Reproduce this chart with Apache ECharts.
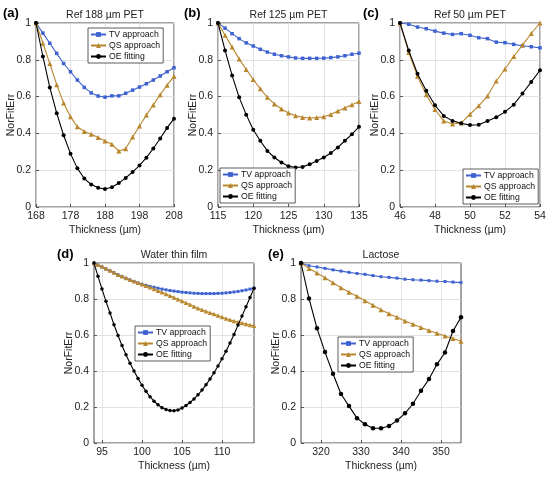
<!DOCTYPE html>
<html><head><meta charset="utf-8">
<script src="https://cdn.jsdelivr.net/npm/echarts@6/dist/echarts.min.js"></script>
<style>html,body{margin:0;padding:0;background:#fff}#c{width:550px;height:479px}</style>
</head><body><div id="c"></div>
<script>
// ---- Data ----
var seriesNames = ['TV approach', 'QS approach', 'OE fitting'];
var panelTitles = ['Ref 188 µm PET', 'Ref 125 µm PET', 'Ref 50 µm PET', 'Water thin film', 'Lactose'];
var panelLabels = ['(a)', '(b)', '(c)', '(d)', '(e)'];
var yTicks = [0, 0.2, 0.4, 0.6, 0.8, 1];

var xA = [168,170,172,174,176,178,180,182,184,186,188,190,192,194,196,198,200,202,204,206,208];
var tvA = [1.0,0.945,0.89,0.835,0.78,0.735,0.69,0.65,0.62,0.603,0.597,0.604,0.604,0.618,0.635,0.652,0.67,0.69,0.712,0.735,0.757];
var qsA = [1.0,0.89,0.78,0.665,0.565,0.49,0.436,0.41,0.395,0.378,0.359,0.341,0.304,0.317,0.38,0.44,0.5,0.555,0.61,0.662,0.71];
var oeA = [1.0,0.818,0.65,0.51,0.39,0.29,0.21,0.155,0.122,0.104,0.098,0.107,0.13,0.158,0.19,0.226,0.268,0.318,0.372,0.43,0.48];
var ticksA = [168,178,188,198,208];

var xB = [115,116,117,118,119,120,121,122,123,124,125,126,127,128,129,130,131,132,133,134,135];
var tvB = [1.0,0.972,0.942,0.915,0.892,0.875,0.857,0.842,0.83,0.822,0.816,0.81,0.808,0.808,0.808,0.809,0.812,0.816,0.822,0.83,0.836];
var qsB = [1.0,0.933,0.869,0.805,0.747,0.693,0.642,0.596,0.56,0.533,0.511,0.496,0.487,0.484,0.486,0.49,0.503,0.522,0.538,0.556,0.573];
var oeB = [1.0,0.851,0.715,0.596,0.502,0.42,0.36,0.305,0.269,0.242,0.222,0.215,0.218,0.232,0.25,0.269,0.293,0.324,0.36,0.396,0.436];
var ticksB = [115,120,125,130,135];

var xC = [46,46.5,47,47.5,48,48.5,49,49.5,50,50.5,51,51.5,52,52.5,53,53.5,54];
var tvC = [1.0,0.993,0.978,0.969,0.956,0.945,0.938,0.942,0.933,0.92,0.915,0.896,0.893,0.884,0.876,0.871,0.865];
var qsC = [1.0,0.84,0.71,0.61,0.53,0.467,0.451,0.457,0.504,0.55,0.603,0.685,0.75,0.818,0.88,0.943,1.0];
var oeC = [1.0,0.85,0.724,0.632,0.553,0.495,0.468,0.455,0.445,0.447,0.468,0.488,0.517,0.556,0.617,0.68,0.743];
var ticksC = [46,48,50,52,54];

var xD = [94,94.5,95,95.5,96,96.5,97,97.5,98,98.5,99,99.5,100,100.5,101,101.5,102,102.5,103,103.5,104,104.5,105,105.5,106,106.5,107,107.5,108,108.5,109,109.5,110,110.5,111,111.5,112,112.5,113,113.5,114];
var tvD = [1.0,0.989,0.978,0.967,0.957,0.946,0.935,0.925,0.915,0.906,0.897,0.889,0.882,0.876,0.87,0.865,0.86,0.855,0.851,0.847,0.844,0.841,0.838,0.836,0.834,0.832,0.831,0.83,0.83,0.83,0.83,0.831,0.832,0.834,0.836,0.839,0.842,0.846,0.85,0.855,0.86];
var qsD = [1.0,0.99,0.98,0.97,0.959,0.947,0.935,0.926,0.917,0.907,0.898,0.89,0.882,0.874,0.865,0.856,0.846,0.837,0.828,0.818,0.809,0.799,0.789,0.779,0.769,0.758,0.748,0.74,0.732,0.724,0.716,0.708,0.7,0.692,0.685,0.678,0.672,0.666,0.661,0.656,0.652];
var oeD = [1.0,0.926,0.855,0.787,0.722,0.657,0.597,0.542,0.49,0.443,0.4,0.359,0.321,0.287,0.257,0.232,0.212,0.196,0.186,0.18,0.179,0.184,0.194,0.208,0.225,0.245,0.268,0.294,0.323,0.355,0.39,0.428,0.468,0.51,0.555,0.603,0.655,0.705,0.757,0.808,0.86];
var ticksD = [95,100,105,110];

var xE = [315,317,319,321,323,325,327,329,331,333,335,337,339,341,343,345,347,349,351,353,355];
var tvE = [1.0,0.985,0.978,0.97,0.962,0.955,0.948,0.942,0.937,0.93,0.924,0.92,0.916,0.91,0.907,0.905,0.902,0.899,0.897,0.894,0.891];
var qsE = [1.0,0.97,0.945,0.918,0.89,0.862,0.838,0.815,0.79,0.765,0.74,0.718,0.698,0.678,0.66,0.642,0.625,0.61,0.595,0.58,0.565];
var oeE = [1.0,0.803,0.637,0.505,0.385,0.272,0.205,0.138,0.104,0.082,0.082,0.094,0.125,0.165,0.218,0.29,0.355,0.437,0.503,0.622,0.698];
var ticksE = [320,330,340,350];

// ---- Layout / style ----
var FONT = '"Liberation Sans", Arial, Helvetica, sans-serif';
var colors = ['#3e62d0', '#b8862d', '#000000'];
var symbols = ['rect', 'triangle', 'circle'];
var symbolSizes = [[3.5,3.5,3.5,3,3],[5,5,5,4.5,5],[4,4,4,3.5,4.5]];

var panels = [
  {x:xA, ys:[tvA,qsA,oeA], ticks:ticksA, min:168, max:208, grid:{left:36,top:23,width:138,height:184}, legend:{left:88,top:28}},
  {x:xB, ys:[tvB,qsB,oeB], ticks:ticksB, min:115, max:135, grid:{left:218,top:23,width:141,height:184}, legend:{left:220,top:168}},
  {x:xC, ys:[tvC,qsC,oeC], ticks:ticksC, min:46, max:54, grid:{left:400,top:23,width:140,height:184}, legend:{left:463,top:169}},
  {x:xD, ys:[tvD,qsD,oeD], ticks:ticksD, min:94, max:114, grid:{left:94,top:263,width:160,height:180}, legend:{left:135,top:326}},
  {x:xE, ys:[tvE,qsE,oeE], ticks:ticksE, min:315, max:355, grid:{left:301,top:263,width:160,height:180}, legend:{left:338,top:337}}
];

var grids = [], xAxes = [], yAxes = [], series = [], legends = [], graphics = [];
panels.forEach(function(p, i){
  grids.push(Object.assign({show:true, borderColor:'#333333', borderWidth:0.9, backgroundColor:'#fff'}, p.grid));
  xAxes.push({
    type:'value', gridIndex:i, min:p.min, max:p.max,
    name:'Thickness (µm)', nameLocation:'middle', nameGap:18, nameMoveOverlap:false,
    nameTextStyle:{fontFamily:FONT, fontSize:10.5, color:'#222'},
    axisLine:{show:false},
    axisTick:{show:true, inside:true, length:3, customValues:p.ticks, lineStyle:{color:'#333', width:0.8}},
    axisLabel:{customValues:p.ticks, fontFamily:FONT, fontSize:10.5, color:'#222', margin:4},
    splitLine:{show:true, lineStyle:{color:'#dcdcdc', width:0.8}}
  });
  yAxes.push({
    type:'value', gridIndex:i, min:0, max:1, interval:0.2,
    name:'NorFitErr', nameLocation:'middle', nameGap:19, nameMoveOverlap:false,
    nameTextStyle:{fontFamily:FONT, fontSize:10.5, color:'#222'},
    axisLine:{show:false},
    axisTick:{show:true, inside:true, length:3, lineStyle:{color:'#333', width:0.8}},
    axisLabel:{fontFamily:FONT, fontSize:10.5, color:'#222', margin:5},
    splitLine:{show:true, lineStyle:{color:'#dcdcdc', width:0.8}}
  });
  seriesNames.forEach(function(nm, k){
    series.push({
      type:'line', name:nm, xAxisIndex:i, yAxisIndex:i,
      data:p.x.map(function(xv, j){ return [xv, p.ys[k][j]]; }),
      symbol:symbols[k], symbolSize:symbolSizes[k][i], showSymbol:true,
      lineStyle:{color:colors[k], width:1.1},
      itemStyle:{color:colors[k], borderWidth:0},
      clip:false, animation:false, z:2+k
    });
  });
  legends.push({
    data:seriesNames, orient:'vertical', left:p.legend.left, top:p.legend.top,
    backgroundColor:'#fff', borderColor:'#333', borderWidth:0.8,
    padding:[2,3,2,2], itemGap:2, itemWidth:15, itemHeight:6,
    textStyle:{fontFamily:FONT, fontSize:8.7, color:'#111', padding:[0,0,0,-2]},
    selectedMode:false, z:10
  });
  var cx = p.grid.left + p.grid.width/2;
  graphics.push({type:'text', x:cx, y:p.grid.top-8, z:20,
    style:{text:panelTitles[i], font:'10.5px ' + FONT, fill:'#222', align:'center', verticalAlign:'middle'}});
});
var labelPos = [[3,13],[184,13],[363,13],[57,254],[268,254]];
labelPos.forEach(function(lp, i){
  graphics.push({type:'text', x:lp[0], y:lp[1], z:20,
    style:{text:panelLabels[i], font:'bold 13px ' + FONT, fill:'#000', align:'left', verticalAlign:'middle'}});
});

var chart = echarts.init(document.getElementById('c'), null, {renderer:'canvas'});
chart.setOption({
  animation:false,
  backgroundColor:'#fff',
  grid:grids, xAxis:xAxes, yAxis:yAxes, series:series, legend:legends, graphic:graphics
});
</script>
</body></html>
